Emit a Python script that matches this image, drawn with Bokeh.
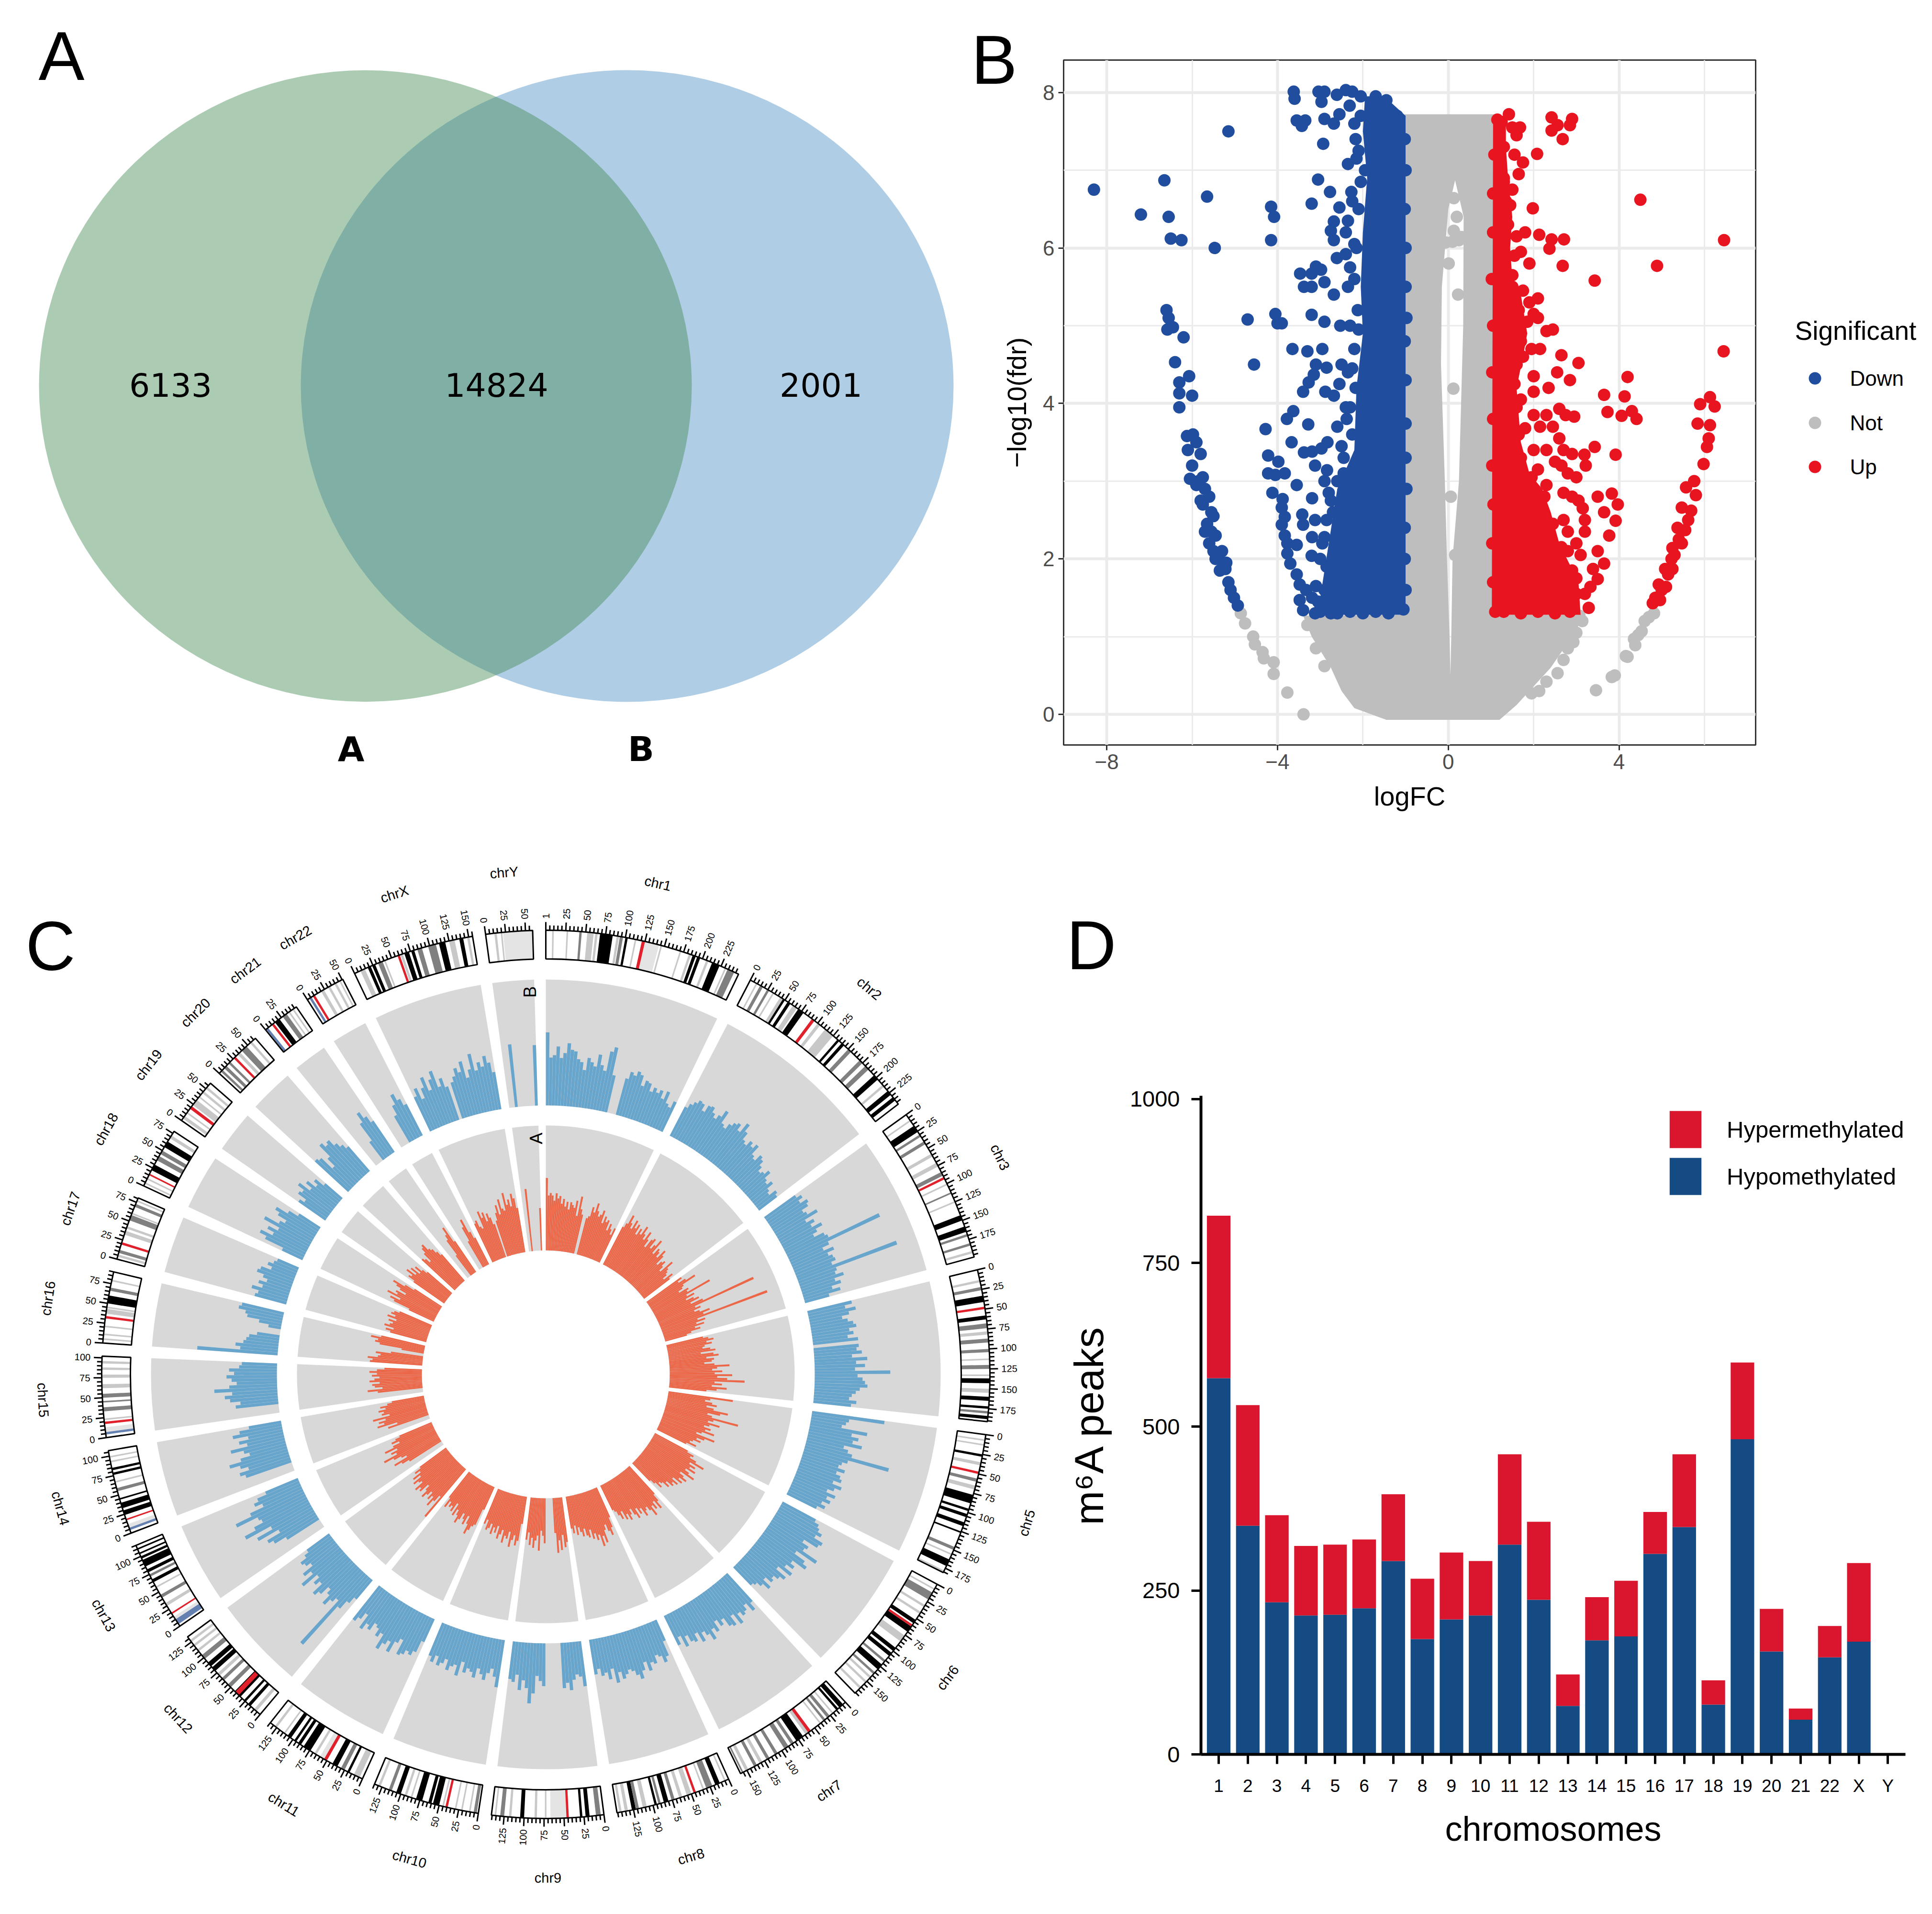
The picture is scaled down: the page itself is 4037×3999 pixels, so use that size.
import math
from bokeh.plotting import figure
from bokeh.layouts import column, row
from bokeh.models import Range1d, FixedTicker, Legend, LegendItem, Label, ColumnDataSource
from bokeh.core.properties import value
from bokeh.embed import file_html
from bokeh.resources import INLINE

FONT = "Liberation Sans"

# ---------- Panel A ----------
venn_counts = ["6133", "14824", "2001"]
venn_sets = ["A", "B"]

# ---------- Panel B ----------
grey_outer = [(-1.03,7.72),(1.08,7.72),(1.03,1.28),(3.2,1.28),(2.9,1.0),(2.4,.6),(1.9,.3),(1.6,.12),(1.2,-.07),(-1.45,-.07),(-2.2,.08),(-2.5,.3),(-2.75,.6),(-3.2,1.0),(-3.4,1.27),(-1.03,1.28)]
grey_slit = [(.16,6.87),(.36,6.4),(.35,5.0),(.25,3.0),(.1,2.0),(.07,1.0),(.05,.5),(.03,1.0),(-.03,2.0),(-.08,3.0),(-.17,4.5),(-.15,5.5),(0.0,6.5)]
not_points = [(-4.86,1.3),(-4.76,1.17),(-4.57,1.0),(-4.53,.9),(-4.35,.8),(-4.32,.72),(-4.09,.67),(-4.09,.52),(-3.77,.28),(-3.39,0),
 (4.82,1.3),(4.6,1.2),(4.53,1.07),(4.35,.97),(4.38,.89),(4.16,.75),(4.2,.74),(3.83,.48),(3.9,.5),(3.46,.31),(4.7,1.25),(4.45,1.02),
 (3.07,1.27),(3.14,1.2),(3.0,1.05),(2.93,.93),(2.8,.85),(2.7,.7),(2.56,.53),(2.3,.42),(2.13,.3),(1.95,.27),(-3.3,1.15),(-3.1,.85),(-2.9,.62),
 (.2,6.4),(.13,6.22),(.31,6.14),(-.06,6.07),(.01,5.8),(.12,4.19),(.23,5.4),(.13,6.64),(.38,6.74),(.1,6.08),(.25,6.1),(.16,2.05),(.06,2.8)]
down_dense = [(-1.0,1.28),(-3.25,1.28),(-3.0,1.5),(-2.8,2.2),(-2.6,2.9),(-2.2,3.4),(-2.15,4.2),(-2.0,4.9),(-2.05,5.5),(-2.0,6.2),(-1.9,6.9),(-2.0,7.5),(-1.95,7.95),(-1.5,7.95),(-1.0,7.7)]
down_points = [(-8.3,6.75),(-7.2,6.43),(-6.65,6.87),(-6.55,6.4),(-6.5,6.12),(-6.25,6.1),(-5.65,6.66),(-5.47,6.0),(-5.15,7.5),(-4.15,6.53),(-4.08,6.4),(-4.15,6.1),(-4.05,5.15),(-4.0,5.03),(-3.9,5.03),(-4.7,5.08),(-4.55,4.5),
 (-6.6,5.2),(-6.55,5.1),(-6.58,4.95),(-6.45,4.98),(-6.2,4.85),(-6.4,4.53),(-6.07,4.35),(-6.3,4.27),(-6.3,4.13),(-6.0,4.1),(-6.3,3.95),(-5.98,3.6),(-6.12,3.58),(-5.9,3.5),(-6.1,3.4),(-5.8,3.35),(-6.0,3.2),(-6.05,3.03),(-5.75,3.05),(-5.9,2.95),(-5.6,2.8),(-5.8,2.75),(-5.75,2.7),(-5.5,2.55),(-5.65,2.45),(-5.45,2.3),(-5.6,2.2),(-5.38,2.0),(-5.22,1.87),(-5.15,1.7),(-5.1,1.6),(-4.93,1.4),(-5.5,2.1),(-5.3,2.1),(-5.35,1.85),(-5.45,2.0),(-5.7,2.35),(-5.55,2.35),(-5.85,3.0),(-5.7,2.9),(-5.02,1.5),(-5.55,2.6),(-5.2,1.95),
 (-3.62,8.01),(-3.6,7.92),(-3.04,8.01),(-2.9,8.01),(-2.97,7.88),(-2.61,7.97),(-2.4,8.03),(-2.25,8.01),(-2.31,7.83),(-3.55,7.64),(-3.35,7.64),(-3.43,7.57),(-2.9,7.66),(-2.68,7.6),(-2.55,7.72),(-2.93,7.34),(-2.17,7.4),(-2.35,7.08),(-1.95,7.0),(-3.05,6.88),(-2.77,6.72),(-2.27,6.72),(-3.2,6.57),(-2.55,6.52),(-2.68,6.34),(-2.75,6.22),(-2.35,6.35),(-2.68,6.1),(-2.4,6.2),(-3.47,5.67),(-3.1,5.76),(-3.2,5.67),(-2.98,5.72),(-3.38,5.5),(-3.2,5.5),(-2.9,5.56),(-2.61,5.87),(-2.4,5.92),(-3.2,5.14),(-2.68,5.4),(-2.9,5.05),(-2.53,5.0),(-3.65,4.7),(-3.3,4.67),(-2.95,4.7),(-3.1,4.5),(-2.85,4.46),(-2.5,4.5),(-3.15,4.37),(-3.27,4.27),(-3.4,4.15),(-2.88,4.15),(-2.68,4.1),(-2.55,4.25),(-2.17,4.2),
 (-3.78,3.8),(-3.63,3.9),(-3.28,3.73),(-3.67,3.5),(-2.38,3.8),(-3.38,3.37),(-3.19,3.38),(-2.97,3.42),(-2.83,3.5),(-3.12,3.2),(-2.84,3.14),(-2.6,3.0),(-4.28,3.67),(-4.22,3.33),(-3.98,3.25),(-4.22,3.1),(-4.05,3.08),(-3.83,3.1),(-4.12,2.85),(-3.88,2.77),(-3.55,2.95),(-3.19,2.78),(-2.9,3.0),(-3.42,2.57),(-3.9,2.66),(-3.83,2.54),(-3.4,2.44),(-3.9,2.44),(-3.12,2.5),(-3.83,2.3),(-3.77,2.2),(-3.55,2.18),(-3.19,2.28),(-3.77,2.07),(-3.2,2.04),(-2.9,2.28),(-3.7,1.94),(-3.55,1.8),(-3.48,1.67),(-3.33,1.6),(-3.19,1.5),(-3.48,1.47),(-3.4,1.34),(-3.12,1.3),(-2.75,1.3),
 (-1.0,3.74),(-1.02,2.0),(-1.0,5.5),(-1.05,1.35),(-1.7,7.95),(-1.45,7.9),(-1.2,7.7),(-2.1,6.5),(-2.12,5.2),(-2.2,4.7),(-2.25,3.6),
 (-1.0,1.6),(-1.02,2.4),(-.98,2.9),(-1.0,3.3),(-1.0,4.3),(-1.02,4.8),(-.98,5.1),(-1.0,6.0),(-1.02,6.5),(-1.0,7.0),(-1.02,7.4),
 (-2.05,7.7),(-2.1,7.25),(-2.05,6.85),(-2.15,6.0),(-2.2,5.6),(-2.1,4.95),(-2.25,4.45),(-2.3,3.95),(-2.45,3.3),(-2.75,2.75),(-2.85,2.5),(-3.0,2.0),(-3.1,1.65),
 (-3.0,1.32),(-2.6,1.3),(-2.3,1.32),(-2.0,1.3),(-1.7,1.32),(-1.4,1.3),
 (-2.9,1.6),(-2.85,1.9),(-2.95,2.2),(-3.05,1.45),(-2.7,2.6),(-2.8,2.85),(-2.45,3.1),(-2.5,3.45),(-2.6,3.7),(-2.4,3.95),(-2.35,4.4),(-2.3,5.0),(-2.35,5.5),(-2.3,5.75),(-2.2,6.05),(-2.25,6.6),(-2.15,7.15),(-2.2,7.6),(-2.05,7.95)]
up_dense = [(1.02,1.28),(3.1,1.28),(3.05,1.7),(2.6,2.2),(2.4,2.6),(2.2,2.9),(1.9,3.1),(1.7,3.5),(1.6,4.2),(1.75,4.6),(1.85,4.9),(1.7,5.4),(1.5,5.6),(1.45,6.0),(1.5,6.4),(1.4,6.9),(1.35,7.3),(1.35,7.7),(1.05,7.7)]
up_points = [(4.5,6.62),(6.46,6.1),(4.89,5.77),(3.43,5.58),(6.45,4.67),
 (6.13,4.08),(5.9,3.99),(6.24,3.96),(5.84,3.74),(6.13,3.72),(6.1,3.55),(6.06,3.44),(5.98,3.22),(5.76,3.0),(5.57,2.92),(5.8,2.82),(5.47,2.66),(5.69,2.62),(5.62,2.5),(5.37,2.4),(5.55,2.37),(5.47,2.2),(5.25,2.14),(5.23,2.0),(5.08,1.87),(5.25,1.87),(4.93,1.67),(5.1,1.64),(4.79,1.43),(4.96,1.47),(5.15,1.8),(5.3,2.05),(5.0,1.6),(4.85,1.5),(5.4,2.25),
 (4.2,4.34),(3.65,4.11),(4.13,4.09),(3.73,3.89),(4.06,3.84),(4.3,3.9),(4.41,3.8),(3.92,3.34),(3.43,3.44),(3.22,3.2),(3.19,3.34),(3.5,2.8),(3.83,2.84),(3.97,2.7),(3.65,2.6),(3.92,2.49),(3.77,2.3),(3.5,2.1),(3.65,1.94),(3.39,1.87),(3.5,1.74),(3.33,1.64),(3.29,1.37),
 (2.42,7.68),(2.56,7.58),(2.42,7.51),(2.9,7.66),(2.85,7.58),(2.68,7.4),(2.08,7.21),(1.98,6.51),(2.13,6.17),(2.71,6.11),(2.42,6.11),(2.37,5.99),(2.68,5.77),
 (1.25,7.62),(1.42,7.72),(1.5,7.55),(1.6,7.45),(1.68,7.55),(1.3,7.3),(1.55,7.2),(1.75,7.1),(1.65,6.95),(1.3,6.85),(1.5,6.75),(1.45,6.55),(1.4,6.3),(1.6,6.15),(1.8,6.2),(1.7,5.95),(1.55,5.9),(1.35,5.9),(1.5,5.65),(1.9,5.8),(1.75,5.45),(1.9,5.3),(2.1,5.35),(2.1,5.1),(2.0,5.15),(2.3,4.93),(2.45,4.95),(1.95,4.7),(2.15,4.7),(2.65,4.62),(3.05,4.52),(2.0,4.35),(2.55,4.4),(2.85,4.3),(2.0,4.15),(2.35,4.2),(1.7,4.05),(2.0,3.85),(2.6,3.93),(2.75,3.85),(2.95,3.83),(2.3,3.85),(1.8,3.68),(2.15,3.7),(2.45,3.7),(2.6,3.55),(2.0,3.4),(2.3,3.4),(2.7,3.4),(2.9,3.35),(2.1,3.15),(2.5,3.25),(2.8,3.1),(2.65,3.2),(3.0,3.05),(2.3,2.95),(2.7,2.85),(3.05,2.75),(2.9,2.8),(3.15,2.65),(2.7,2.5),(3.2,2.5),(2.8,2.35),(3.2,2.35),(3.0,2.2),(2.8,2.1),(3.1,2.05),(2.65,1.95),(2.9,1.85),(3.2,1.55),(3.0,1.55),(2.7,1.5),(1.1,1.32),
 (1.05,1.7),(1.03,2.2),(1.06,2.7),(1.03,3.2),(1.05,3.8),(1.03,4.4),(1.05,5.0),(1.02,5.6),(1.05,6.2),(1.05,6.7),(1.08,7.2),(1.15,7.65),
 (1.3,6.9),(1.35,6.6),(1.25,6.1),(1.5,5.5),(1.65,5.2),(1.85,5.05),(1.7,4.8),(1.6,4.5),(1.75,4.6),(1.55,4.25),(1.6,3.95),(1.65,3.6),(1.7,3.3),(1.95,3.05),(2.25,2.8),(2.45,2.45),(2.65,2.15),(3.0,1.75),
 (1.3,1.32),(1.7,1.3),(2.1,1.32),(2.5,1.3),(2.85,1.32)]
legend_b_labels = ["Down", "Not", "Up"]

# ---------- Panel C ----------
chrom_names = ["chr1","chr2","chr3","chr4","chr5","chr6","chr7","chr8","chr9","chr10","chr11","chr12","chr13","chr14","chr15","chr16","chr17","chr18","chr19","chr20","chr21","chr22","chrX","chrY"]
chrom_lengths = [249,243,198,191,181,171,159,146,141,135,135,133,115,107,102,90,81,78,59,63,48,51,155,59]
labelled_chroms = [c for c in chrom_names if c != "chr4"]

trackB = [
 [58,38,40,47,38,42,50,45,44,38,36,30,40,37,34,44,36,32,48,52,30,0,0,0,30,36,34,38,36,28,33,32,26,30,27,30,24,31,22,20,26],
 [26,30,33,36,35,30,36,37,33,30,34,40,30,28,33,36,38,33,42,36,30,28,33,30,34,26,24,30,28,24,20,22,26,20,18,22,16,14,20,18],
 [30,34,30,36,34,28,30,38,26,32,28,36,30,26,34,36,80,34,28,36,30,33,34,30,84,32,30,36,28,32,24,30,20],
 [36,30,38,32,26,30,34,36,30,33,28,36,0,36,34,38,30,42,33,40,32,60,34,38,40,42,36,33,30,28,34,30],
 [58,30,28,25,46,34,40,36,44,30,34,38,69,36,32,30,36,30,34,36,30,38,33,28,36,30,34,28,32,26],
 [30,34,36,40,36,44,42,30,36,34,48,30,40,44,32,36,30,38,26,36,32,28,30,24,32,26,22,20],
 [30,36,28,32,34,30,38,28,36,34,26,30,24,32,28,36,30,26,33,24,30,28,22,30,20,26],
 [18,30,34,28,26,32,30,36,28,34,40,36,32,30,33,36,30,38,26,34,28,30,24,28],
 [36,28,26,30,38,32,36,0,0,0,0,0,34,30,26,40,48,36,30,38,26,32,30],
 [38,30,24,28,34,30,26,34,30,28,32,24,36,28,30,34,26,30,33,26,32,28],
 [20,30,34,32,36,38,26,30,40,32,36,42,30,34,28,26,33,30,36,24,30,34],
 [20,26,34,75,30,34,40,32,28,36,40,30,34,28,42,30,36,26,30,32,26,22],
 [0,0,0,30,40,44,32,50,36,58,48,40,42,60,46,34,40,36,28],
 [0,0,0,38,42,34,40,48,38,30,34,44,30,36,28,40,34,26],
 [0,0,0,34,30,38,42,36,50,38,32,36,40,34,38,30,28],
 [64,30,34,28,26,24,18,0,0,10,18,28,30,36,34],
 [26,24,30,22,26,20,24,30,28,20,24,20,18],
 [18,34,40,30,36,28,42,30,26,34,38,28,20],
 [26,22,30,28,34,24,30,22,26,18],
 [36,34,22,30,42,38,40,34,30,26],
 [0,0,0,18,34,42,36,30],
 [0,0,0,24,32,40,34,28],
 [30,36,26,34,42,30,38,44,30,36,28,0,30,34,40,36,44,30,36,48,34,40,36,44,38,30],
 [0,0,50,0,0,0,0,0,0,48],
]
trackA = [
 [58,44,46,44,40,46,42,44,38,42,36,40,34,40,38,36,42,30,46,36,32,0,0,30,32,40,36,44,38,34,36,40,30,36,32,34,26,32,28,24,30],
 [34,38,46,40,36,44,38,42,34,40,36,44,38,34,42,36,30,38,40,32,36,42,30,36,34,30,38,34,26,30,32,28,24,36,30,28,26,22,30,26],
 [34,30,36,44,32,30,26,34,32,52,30,36,28,34,38,30,40,84,32,36,30,34,42,36,90,30,36,28,34,26,30,22,18],
 [30,34,38,32,36,30,28,34,38,26,36,40,30,36,34,28,36,48,38,34,42,36,50,38,46,60,36,42,34,46,38,30],
 [52,34,30,36,40,32,38,50,44,34,38,60,40,36,46,38,34,40,36,44,34,30,46,38,32,36,30,28,34,26],
 [30,36,34,40,48,36,42,38,44,36,40,46,34,38,42,36,40,32,38,34,36,30,34,28,26,30,24,20],
 [30,36,42,34,40,36,44,38,34,36,40,32,36,30,38,34,28,32,36,30,34,26,32,28,24,22],
 [26,34,40,36,30,34,44,38,46,36,40,34,38,30,36,34,28,34,30,26,32,24,30,26],
 [36,40,30,42,34,44,28,0,0,0,0,0,36,30,26,42,30,34,40,32,38,28,34],
 [22,36,40,32,36,42,30,36,34,40,30,34,38,28,34,30,36,28,32,34,26,30],
 [20,34,36,40,44,36,30,38,34,30,36,40,34,30,36,26,34,30,32,28,34,26],
 [50,30,36,42,34,38,32,36,40,34,30,38,36,40,32,34,38,30,36,28,32,26],
 [0,0,0,30,36,42,30,34,40,48,36,40,34,44,36,30,36,32,28],
 [0,0,0,34,26,42,36,40,34,44,30,36,34,38,32,36,30,26],
 [0,0,0,36,44,32,38,40,34,42,38,34,40,36,42,36,30],
 [42,40,44,36,34,38,26,0,0,18,36,40,38,44,36],
 [30,34,28,36,32,30,34,28,36,30,34,32,28],
 [22,36,40,32,44,36,38,30,36,40,44,34,26],
 [30,36,34,40,32,38,30,36,30,26],
 [36,34,30,38,42,44,38,36,32,28],
 [0,0,0,20,34,38,44,30],
 [0,0,0,24,36,42,30,24],
 [34,36,30,28,42,36,40,32,38,34,28,0,30,36,42,34,46,38,36,50,40,44,38,48,44,36],
 [0,0,50,0,0,0,0,0,0,34],
]
bands = [
 [(8,10,'l'),(26,28,'l'),(42,45,'g'),(52,60,'l'),(62,65,'l'),(68,84,'k'),(89,92,'l'),(93,97,'g'),(100,103,'k'),(112,114,'l'),(121,125,'r'),(125,143,'x'),(145,147,'l'),(170,172,'l'),(182,185,'l'),(187,191,'k'),(193,197,'k'),(205,208,'l'),(213,223,'k'),(230,232,'l'),(234,243,'g')],
 [(8,10,'l'),(14,18,'g'),(24,27,'g'),(32,34,'l'),(43,47,'l'),(47,50,'k'),(54,58,'k'),(62,68,'l'),(70,78,'k'),(91,95,'r'),(100,104,'l'),(112,125,'l'),(132,135,'k'),(139,143,'k'),(150,155,'g'),(170,175,'g'),(180,186,'g'),(196,203,'k'),(212,215,'l'),(222,228,'k'),(232,237,'k')],
 [(8,10,'l'),(17,26,'k'),(30,33,'g'),(40,44,'g'),(58,62,'l'),(71,76,'l'),(84,89,'g'),(91,94,'r'),(100,102,'l'),(112,114,'g'),(124,126,'l'),(143,150,'k'),(158,165,'k'),(168,171,'g'),(180,183,'g'),(190,193,'l')],
 [(13,16,'l'),(22,26,'g'),(33,41,'k'),(47,50,'r'),(58,63,'k'),(68,74,'g'),(78,82,'l'),(87,92,'g'),(100,104,'g'),(112,114,'l'),(120,125,'g'),(132,134,'l'),(137,143,'k'),(150,155,'l'),(160,165,'k'),(172,175,'k'),(178,181,'g'),(184,188,'k')],
 [(6,8,'l'),(12,14,'l'),(25,28,'k'),(35,39,'l'),(47,50,'r'),(56,60,'g'),(65,70,'l'),(77,88,'k'),(95,98,'k'),(102,106,'k'),(113,118,'k'),(125,127,'k'),(146,150,'g'),(155,157,'l'),(163,172,'k'),(178,180,'l')],
 [(6,8,'l'),(12,22,'g'),(30,33,'l'),(40,43,'l'),(52,57,'k'),(62,70,'k'),(59,62,'r'),(76,85,'l'),(95,100,'k'),(103,108,'k'),(115,118,'g'),(122,130,'k'),(135,138,'g'),(142,145,'l'),(150,153,'l'),(160,163,'l')],
 [(4,10,'k'),(12,15,'k'),(20,22,'l'),(26,30,'g'),(33,36,'g'),(40,42,'l'),(56,60,'r'),(60,64,'l'),(68,78,'k'),(82,86,'g'),(90,96,'g'),(106,110,'g'),(118,122,'g'),(128,132,'l'),(136,140,'g'),(148,152,'l'),(155,157,'g')],
 [(4,6,'l'),(12,18,'k'),(22,30,'g'),(33,35,'l'),(44,47,'r'),(50,56,'l'),(62,66,'l'),(72,76,'g'),(80,86,'k'),(90,93,'g'),(95,98,'k'),(108,113,'l'),(118,122,'g'),(122,127,'k'),(132,136,'l'),(140,143,'l')],
 [(4,10,'g'),(18,23,'k'),(27,30,'k'),(44,47,'r'),(47,67,'x'),(72,74,'l'),(84,87,'l'),(100,105,'k'),(116,119,'l'),(125,130,'g'),(135,137,'l')],
 [(2,6,'g'),(10,12,'l'),(20,22,'l'),(28,30,'l'),(39,42,'r'),(44,46,'l'),(50,58,'k'),(60,64,'k'),(72,80,'k'),(85,87,'l'),(92,95,'l'),(100,106,'k'),(112,116,'g'),(127,130,'l')],
 [(4,12,'l'),(18,21,'k'),(25,30,'g'),(35,42,'k'),(50,54,'r'),(54,60,'x'),(65,68,'l'),(74,84,'k'),(88,92,'k'),(95,98,'k'),(103,108,'k'),(112,114,'l'),(125,128,'l')],
 [(6,10,'l'),(16,20,'k'),(24,27,'k'),(33,43,'k'),(36,42,'r'),(50,55,'g'),(62,66,'g'),(70,74,'l'),(78,84,'k'),(86,92,'k'),(98,104,'g'),(110,113,'l'),(118,121,'l'),(125,128,'l')],
 [(3,10,'b'),(10,14,'x'),(18,20,'r'),(30,34,'l'),(42,46,'g'),(56,58,'l'),(64,68,'k'),(72,75,'g'),(78,82,'k'),(86,95,'k'),(97,100,'k'),(103,105,'k'),(109,111,'k')],
 [(4,7,'b'),(7,12,'x'),(17,19,'r'),(24,30,'k'),(33,40,'k'),(44,46,'k'),(55,59,'g'),(66,68,'l'),(76,79,'k'),(82,85,'k'),(92,94,'l'),(98,100,'l')],
 [(4,7,'b'),(7,13,'x'),(17,20,'r'),(22,24,'l'),(33,38,'g'),(44,46,'g'),(50,55,'g'),(62,67,'l'),(75,79,'l'),(85,88,'l'),(93,96,'l')],
 [(4,6,'l'),(10,12,'l'),(20,22,'l'),(31,34,'r'),(37,43,'l'),(44,46,'l'),(50,60,'k'),(66,70,'g'),(78,80,'l')],
 [(3,6,'l'),(8,12,'g'),(19,22,'r'),(32,37,'l'),(40,43,'l'),(51,58,'g'),(59,61,'l'),(69,73,'g'),(76,78,'l')],
 [(3,5,'l'),(9,11,'l'),(15,17,'r'),(22,30,'k'),(36,42,'g'),(45,50,'g'),(55,63,'k'),(68,72,'l')],
 [(3,7,'l'),(11,13,'l'),(18,22,'r'),(24,32,'l'),(36,38,'l'),(43,46,'l'),(50,53,'l')],
 [(3,6,'g'),(9,13,'g'),(17,20,'g'),(26,29,'r'),(33,37,'l'),(40,48,'g'),(54,57,'l')],
 [(1,4,'b'),(10,13,'r'),(15,22,'k'),(27,33,'g'),(36,38,'l'),(42,44,'l')],
 [(3,6,'b'),(8,11,'r'),(20,24,'l'),(30,33,'l'),(39,42,'l'),(46,48,'l')],
 [(8,14,'l'),(18,22,'k'),(24,28,'k'),(32,38,'g'),(40,42,'l'),(58,61,'r'),(62,65,'l'),(67,73,'k'),(76,80,'k'),(84,90,'g'),(98,108,'g'),(112,120,'k'),(125,132,'l'),(138,143,'k'),(148,151,'l')],
 [(11,14,'l'),(19,21,'l'),(22,59,'x')],
]
band_colors = {'k':'#000000','g':'#808080','l':'#C8C8C8','x':'#E4E4E4','r':'#E0202A','b':'#6480B0'}

# ---------- Panel D ----------
d_labels = [str(i) for i in range(1,23)] + ["X","Y"]
hypo = [574,349,232,212,213,223,295,176,206,212,320,236,74,174,180,306,347,76,481,157,53,148,172,0]
hyper = [248,184,133,106,107,105,102,92,102,83,138,119,48,66,85,64,111,37,117,65,17,48,120,0]

# ========== figures (positions in reference pixels) ==========
H1 = 1808
H2 = 2183
W_A = 2130     # panel A figure runs under panel B's transparent left border
W_C = 2340     # panel C figure runs under panel D's transparent left border
PB_LEFT = 2008
PD_LEFT = 2170

def panel_letter(fig, txt, x, y_top):
    fig.text(x=[x], y=[y_top], text=[txt], text_font=value(FONT), text_font_size="144px", text_color="black",
             text_baseline="top", text_align="left")

# Panel A
pa = figure(width=W_A, height=H1, x_range=Range1d(0, W_A), y_range=Range1d(H1, 0), output_backend="svg", frame_align=False,
            toolbar_location=None, x_axis_type=None, y_axis_type=None, min_border=0, outline_line_color=None)
pa.ellipse(x=[1310], y=[806], width=[1364], height=[1320], fill_color="#AFCDE5", line_color=None)
pa.ellipse(x=[763], y=[806], width=[1364], height=[1320], fill_color="#448C56", fill_alpha=0.45, line_color=None)
pa.text(x=[356, 1037, 1715], y=[803, 803, 803], text=venn_counts, text_font=value("DejaVu Sans"), text_font_size="68px",
        text_align="center", text_baseline="middle", text_color="black")
pa.text(x=[733, 1339], y=[1564, 1564], text=venn_sets, text_font=value("DejaVu Sans"), text_font_size="72px", text_font_style="bold",
        text_align="center", text_baseline="middle", text_color="black")
panel_letter(pa, "A", 80, 36)
panel_letter(pa, "B", 2029, 44)

# Panel B
pb = figure(width=3680-PB_LEFT, height=H1, x_range=Range1d(-9.01, 7.2), y_range=Range1d(-0.394, 8.417), output_backend="svg", frame_align=False,
            toolbar_location=None, min_border_left=2222-PB_LEFT, min_border_right=12, min_border_top=125, min_border_bottom=252,
            outline_line_color="#333333", outline_line_width=3, border_fill_color=None, margin=(0, 0, 0, PB_LEFT-W_A))
pb.xaxis.ticker = FixedTicker(ticks=[-8,-4,0,4])
pb.yaxis.ticker = FixedTicker(ticks=[0,2,4,6,8])
pb.xgrid.ticker = FixedTicker(ticks=[-8,-4,0,4], minor_ticks=[-6,-2,2,6])
pb.ygrid.ticker = FixedTicker(ticks=[0,2,4,6,8], minor_ticks=[1,3,5,7])
for g in (pb.xgrid, pb.ygrid):
    g.grid_line_color = "#EBEBEB"; g.grid_line_width = 6
    g.minor_grid_line_color = "#EBEBEB"; g.minor_grid_line_width = 3
pb.xaxis.major_label_overrides = {-8:"\u22128", -4:"\u22124"}
pb.xaxis.axis_label = "logFC"
pb.yaxis.axis_label = "\u2212log10(fdr)"
for ax in (pb.xaxis, pb.yaxis):
    ax.axis_line_color = None
    ax.major_tick_in = 0; ax.major_tick_out = 11; ax.major_tick_line_width = 3; ax.major_tick_line_color = "#333333"
    ax.minor_tick_line_color = None
    ax.major_label_text_font = FONT; ax.major_label_text_font_size = "44px"; ax.major_label_text_color = "#4D4D4D"
    ax.axis_label_text_font = FONT; ax.axis_label_text_font_style = "normal"; ax.axis_label_text_font_size = "56px"
    ax.axis_label_text_color = "black"; ax.major_label_standoff = 8
pb.xaxis.axis_label_standoff = 22
pb.yaxis.axis_label_standoff = 20
gx = [[[ [p[0] for p in grey_outer], [p[0] for p in grey_slit] ]]]
gy = [[[ [p[1] for p in grey_outer], [p[1] for p in grey_slit] ]]]
pb.multi_polygons(xs=gx, ys=gy, fill_color="#BEBEBE", line_color=None)
pb.scatter([p[0] for p in not_points], [p[1] for p in not_points], size=26, color="#BEBEBE", line_color=None)
pb.patch([p[0] for p in down_dense], [p[1] for p in down_dense], fill_color="#204D9E", line_color=None)
pb.scatter([p[0] for p in down_points], [p[1] for p in down_points], size=26, color="#204D9E", line_color=None)
pb.patch([p[0] for p in up_dense], [p[1] for p in up_dense], fill_color="#E8141F", line_color=None)
pb.scatter([p[0] for p in up_points], [p[1] for p in up_points], size=26, color="#E8141F", line_color=None)

# Panel B legend (own small figure to the right of the frame)
X0 = 3680
pl = figure(width=349, height=H1, x_range=Range1d(X0, X0+349), y_range=Range1d(H1, 0), output_backend="svg", frame_align=False,
            toolbar_location=None, x_axis_type=None, y_axis_type=None, min_border=0, outline_line_color=None)
pl.text(x=[3750], y=[690], text=["Significant"], text_font=value(FONT), text_font_size="55px", text_baseline="middle", text_color="black")
pl.scatter(x=[3792]*3, y=[790, 883, 975], size=26, color=["#204D9E", "#BEBEBE", "#E8141F"], line_color=None)
pl.text(x=[3865]*3, y=[790, 883, 975], text=legend_b_labels, text_font=value(FONT), text_font_size="44px", text_baseline="middle", text_color="black")

# Panel C
CX, CY = 1140, 2871
R_A = (259, 520); R_B = (562, 825); R_I = (868, 928)
pc = figure(width=W_C, height=H2, x_range=Range1d(-CX, W_C-CX), y_range=Range1d(CY-3991, CY-1808), output_backend="svg", frame_align=False,
            toolbar_location=None, x_axis_type=None, y_axis_type=None, min_border=0, outline_line_color=None)
GAP = 1.7
deg_per_mb = (360 - len(chrom_lengths)*GAP) / sum(chrom_lengths)
starts = []
t = 0.0
for L in chrom_lengths:
    starts.append(t)
    t += L*deg_per_mb + GAP
def rad(theta):
    return math.radians(90 - theta)
def wedges(fig, items, **kw):
    src = ColumnDataSource(dict(i=[a[0] for a in items], o=[a[1] for a in items],
                                s=[rad(a[3]) for a in items], e=[rad(a[2]) for a in items]))
    return fig.annular_wedge(x=0, y=0, inner_radius="i", outer_radius="o", start_angle="s", end_angle="e", source=src, **kw)

sect_a, sect_b, sect_i = [], [], []
bars_a, bars_b = [], []
for k, L in enumerate(chrom_lengths):
    t0 = starts[k]; t1 = t0 + L*deg_per_mb
    sect_a.append((R_A[0], R_A[1], t0, t1))
    sect_b.append((R_B[0], R_B[1], t0, t1))
    sect_i.append((R_I[0], R_I[1], t0, t1))
    for vals, rr, out in ((trackA[k], R_A, bars_a), (trackB[k], R_B, bars_b)):
        n = len(vals); dt = (t1-t0)/n
        for j, h in enumerate(vals):
            if h > 0:
                out.append((rr[0], rr[0] + (rr[1]-rr[0])*h/100.0, t0+j*dt+0.02*dt, t0+(j+1)*dt-0.02*dt))
wedges(pc, sect_a, fill_color="#D8D8D8", line_color=None)
wedges(pc, sect_b, fill_color="#D8D8D8", line_color=None)
wedges(pc, bars_a, fill_color="#EB6748", line_color=None)
wedges(pc, bars_b, fill_color="#68A5CC", line_color=None)
wedges(pc, sect_i, fill_color="white", line_color=None)
for code, col in band_colors.items():
    items = []
    for k, blist in enumerate(bands):
        for (a, b, c) in blist:
            if c == code:
                items.append((R_I[0], R_I[1], starts[k]+a*deg_per_mb, starts[k]+b*deg_per_mb))
    wedges(pc, items, fill_color=col, line_color=None)
wedges(pc, sect_i, fill_alpha=0, line_color="black", line_width=3)

tx0, ty0, tx1, ty1 = [], [], [], []
lab_r = dict(x=[], y=[], t=[], a=[]); lab_l = dict(x=[], y=[], t=[], a=[])
for k, L in enumerate(chrom_lengths):
    for mb in range(0, L+1, 5):
        th = starts[k] + mb*deg_per_mb
        major = mb % 25 == 0
        r2 = R_I[1] + (17 if major else 10)
        a = rad(th)
        tx0.append(R_I[1]*math.cos(a)); ty0.append(R_I[1]*math.sin(a))
        tx1.append(r2*math.cos(a)); ty1.append(r2*math.sin(a))
        if major:
            d = lab_r if 0 <= (th % 360) < 180 else lab_l
            d["x"].append((R_I[1]+24)*math.cos(a)); d["y"].append((R_I[1]+24)*math.sin(a))
            d["t"].append("1" if (k == 0 and mb == 0) else str(mb))
            d["a"].append(a if d is lab_r else a + math.pi)
pc.segment(tx0, ty0, tx1, ty1, line_color="black", line_width=3)
pc.text(x=lab_r["x"], y=lab_r["y"], text=lab_r["t"], angle=lab_r["a"], text_font=value(FONT), text_font_size="20px",
        text_align="left", text_baseline="middle", text_color="black")
pc.text(x=lab_l["x"], y=lab_l["y"], text=lab_l["t"], angle=lab_l["a"], text_font=value(FONT), text_font_size="20px",
        text_align="right", text_baseline="middle", text_color="black")
nx, ny, nt, na = [], [], [], []
for k, name in enumerate(chrom_names):
    if name not in labelled_chroms:
        continue
    th = starts[k] + chrom_lengths[k]*deg_per_mb/2
    a = rad(th)
    nx.append(1052*math.cos(a)); ny.append(1052*math.sin(a)); nt.append(name)
    na.append(math.radians(180-th) if 90 < th < 270 else math.radians(-th))
pc.text(x=nx, y=ny, text=nt, angle=na, text_font=value(FONT), text_font_size="29px", text_align="center",
        text_baseline="middle", text_color="black")
pc.text(x=[-33, -20], y=[799, 493], text=["B", "A"], angle=[math.pi/2, math.pi/2], text_font=value(FONT), text_font_size="36px",
        text_align="center", text_baseline="middle", text_color="black")
panel_letter(pc, "C", 53-CX, CY-1896)
panel_letter(pc, "D", 2228-CX, CY-1894)

# Panel D
pd_ = figure(width=4029-PD_LEFT, height=H2, x_range=Range1d(1+(2509-2546)/60.8, 1+(3981-2546)/60.8), y_range=Range1d(0, 1005),
             output_backend="svg", frame_align=False, toolbar_location=None, min_border_left=2509-PD_LEFT, min_border_right=48,
             min_border_top=481, min_border_bottom=326, outline_line_color=None, border_fill_color=None, background_fill_color=None,
             margin=(0, 0, 0, PD_LEFT-W_C))
pd_.grid.visible = False
src = ColumnDataSource(dict(x=list(range(1, 25)), hypo=hypo, hyper=hyper))
rs = pd_.vbar_stack(["hypo", "hyper"], x="x", width=0.81, color=["#134B82", "#D9162E"], source=src, line_color=None)
pd_.xaxis.ticker = FixedTicker(ticks=list(range(1, 25)))
pd_.xaxis.major_label_overrides = {i+1: s for i, s in enumerate(d_labels)}
pd_.yaxis.ticker = FixedTicker(ticks=[0,250,500,750,1000])
pd_.xaxis.axis_label = "chromosomes"
pd_.yaxis.axis_label = "m\u2076A peaks"
for ax in (pd_.xaxis, pd_.yaxis):
    ax.axis_line_color = "black"; ax.axis_line_width = 6
    ax.major_tick_in = 0; ax.major_tick_out = 20; ax.major_tick_line_width = 5; ax.major_tick_line_color = "black"
    ax.minor_tick_line_color = None
    ax.major_label_text_font = FONT; ax.major_label_text_color = "black"
    ax.axis_label_text_font = FONT; ax.axis_label_text_font_style = "normal"; ax.axis_label_text_color = "black"
pd_.xaxis.major_label_text_font_size = "37px"
pd_.yaxis.major_label_text_font_size = "47px"
pd_.xaxis.axis_label_text_font_size = "72px"
pd_.yaxis.axis_label_text_font_size = "86px"
pd_.xaxis.major_label_standoff = 25
pd_.yaxis.major_label_standoff = 24
pd_.xaxis.axis_label_standoff = 26
pd_.yaxis.axis_label_standoff = 35
ld = Legend(items=[LegendItem(label="Hypermethylated", renderers=[rs[1]]), LegendItem(label="Hypomethylated", renderers=[rs[0]])],
            location=(3480-2509, 3665-2506), padding=0, margin=0, spacing=1, glyph_width=83, glyph_height=97,
            label_standoff=45, label_height=84, label_text_font=FONT, label_text_font_size="49px", label_text_color="black",
            border_line_color=None, background_fill_alpha=0)
pd_.add_layout(ld, "center")

page = column(row(pa, pb, pl, spacing=0), row(pc, pd_, spacing=0), spacing=0)
open("out.html", "w").write(file_html(page, INLINE))
